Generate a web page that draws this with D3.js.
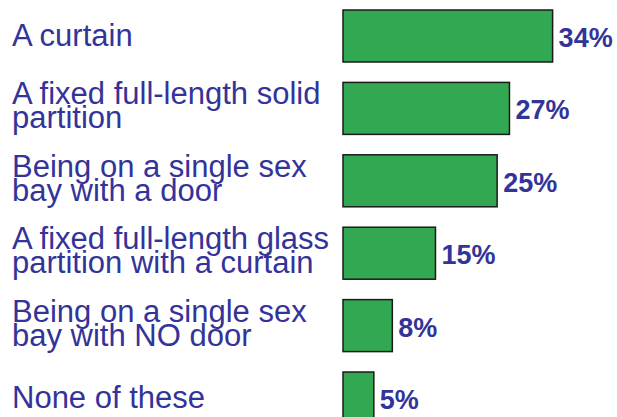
<!DOCTYPE html>
<html>
<head>
<meta charset="utf-8">
<script src="https://cdn.jsdelivr.net/npm/d3@7"></script>
<style>
  body { margin: 0; background: #fff; }
  svg { display: block; }
  .cat { font-family: "Liberation Sans", Arial, sans-serif; font-size: 31px; fill: #333399; }
  .pct { font-family: "Liberation Sans", Arial, sans-serif; font-size: 27px; font-weight: bold; fill: #333399; }
</style>
</head>
<body>
<svg id="canvas" width="617" height="417"></svg>
<script>
const categories = [
    "A curtain",
    "A fixed full-length solid partition",
    "Being on a single sex bay with a door",
    "A fixed full-length glass partition with a curtain",
    "Being on a single sex bay with NO door",
    "None of these"
];
const labelLines = [
    ["A curtain"],
    ["A fixed full-length solid", "partition"],
    ["Being on a single sex", "bay with a door"],
    ["A fixed full-length glass", "partition with a curtain"],
    ["Being on a single sex", "bay with NO door"],
    ["None of these"]
];
const values = [34, 27, 25, 15, 8, 5];

const svg = d3.select("#canvas");

const x = d3.scaleLinear().domain([0, 100]).range([343, 343 + 616.5]);
const y = d3.scaleBand().domain(categories).range([10, 424]).paddingInner(0.282).paddingOuter(0);

const rows = svg.selectAll(".row")
    .data(categories.map((c, i) => ({ cat: c, lines: labelLines[i], val: values[i] })))
    .enter().append("g")
    .attr("class", "row");

rows.append("rect")
    .attr("x", x(0))
    .attr("y", d => y(d.cat))
    .attr("width", d => x(d.val) - x(0))
    .attr("height", y.bandwidth())
    .attr("fill", "#33a852")
    .attr("stroke", "#1a1a1a")
    .attr("stroke-width", 1.5);

rows.append("text")
    .attr("class", "pct")
    .attr("x", d => x(d.val) + 6)
    .attr("y", d => y(d.cat) + y.bandwidth() / 2 + 11)
    .text(d => d.val + "%");

const labels = rows.append("text")
    .attr("class", "cat")
    .attr("x", 12)
    .attr("y", d => y(d.cat) + y.bandwidth() / 2 + 10 - (d.lines.length - 1) * 14);

labels.selectAll("tspan")
    .data(d => d.lines)
    .enter().append("tspan")
    .attr("x", 12)
    .attr("dy", (d, i) => i === 0 ? 0 : 24)
    .text(d => d);
</script>
</body>
</html>
